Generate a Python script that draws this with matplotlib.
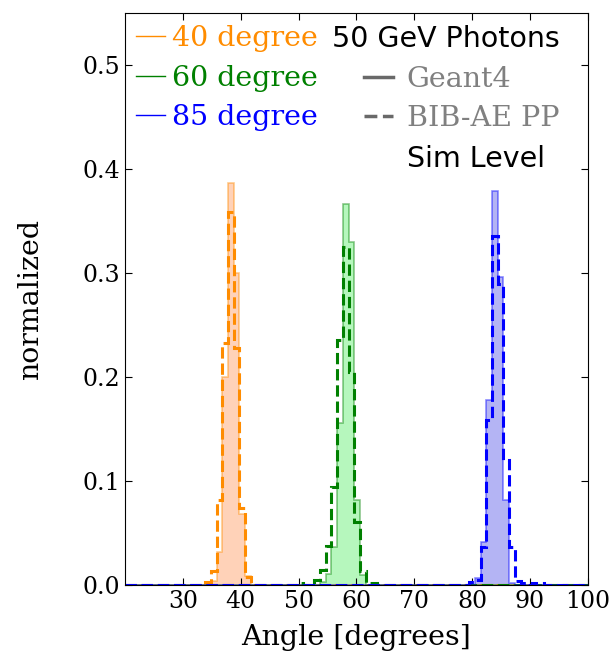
import numpy as np
import matplotlib
matplotlib.use("Agg")
import matplotlib.pyplot as plt
from matplotlib.lines import Line2D

plt.rcParams["font.family"] = "DejaVu Serif"
plt.rcParams["xtick.direction"] = "in"
plt.rcParams["ytick.direction"] = "in"
plt.rcParams["xtick.top"] = True
plt.rcParams["ytick.right"] = True

# angle binning (degrees)
bin_edges = 19.94 + 0.992 * np.arange(82)
bin_centres = 0.5 * (bin_edges[:-1] + bin_edges[1:])

angles = ["40 degree", "60 degree", "85 degree"]

# normalised bin contents, each list starts at the given bin index
g4_40 = [0.0, 0.004, 0.032, 0.200, 0.387, 0.300, 0.068, 0.009]
bib_40 = [0.003, 0.013, 0.082, 0.233, 0.359, 0.228, 0.074, 0.008]
first_40 = 14

g4_60 = [0.0, 0.003, 0.011, 0.037, 0.156, 0.367, 0.330, 0.082, 0.010]
bib_60 = [0.005, 0.014, 0.038, 0.094, 0.236, 0.325, 0.205, 0.061, 0.013, 0.002]
first_60 = 33

g4_85 = [0.0, 0.007, 0.041, 0.178, 0.379, 0.296, 0.082, 0.002, 0.0]
bib_85 = [0.003, 0.005, 0.037, 0.159, 0.336, 0.290, 0.120, 0.037, 0.004, 0.003, 0.0, 0.002]
first_85 = 60

# sparse tail entries far from the peaks
tail_bins = [30, 43, 69, 72]
tail_vals = [0.0015, 0.0015, 0.002, 0.0015]

line_colors = ["darkorange", "green", "blue"]
fill_colors = ["#ffd2b8", "#b6f7bd", "#b4b4f4"]


def to_weights(values, first):
    w = np.zeros(len(bin_centres))
    w[first:first + len(values)] = values
    return w


fig = plt.figure(figsize=(6.13, 6.57), dpi=100)
ax = fig.add_axes([0.204, 0.1096, 0.755, 0.870])

g4_sets = [(g4_40, first_40), (g4_60, first_60), (g4_85, first_85)]
bib_sets = [(bib_40, first_40), (bib_60, first_60), (bib_85, first_85)]

for i in range(3):
    w_g4 = to_weights(*g4_sets[i])
    w_bib = to_weights(*bib_sets[i])
    if i == 2:
        w_bib[tail_bins[2:]] = tail_vals[2:]
    if i == 1:
        w_bib[tail_bins[:2]] = tail_vals[:2]
    # Geant4: filled
    ax.hist(bin_centres, bins=bin_edges, weights=w_g4, histtype="stepfilled",
            color=fill_colors[i], lw=0)
    ax.hist(bin_centres, bins=bin_edges, weights=w_g4, histtype="step",
            color=line_colors[i], alpha=0.45, lw=1.2)
    # BIB-AE: dashed outline
    ax.hist(bin_centres, bins=bin_edges, weights=w_bib, histtype="step",
            color=line_colors[i], ls="--", lw=2.2)

ax.set_xlim(20, 100)
ax.set_ylim(0, 0.55)
ax.set_xticks(np.arange(30, 101, 10))
ax.set_yticks(np.arange(0, 0.51, 0.1))
ax.tick_params(labelsize=17, length=5, width=0.8)
ax.set_xlabel("Angle [degrees]", fontsize=20.5, labelpad=8)
ax.set_ylabel("normalized", fontsize=20.5, labelpad=28)

# colour legend
color_handles = [Line2D([], [], color=c, lw=1) for c in line_colors]
leg1 = ax.legend(color_handles, angles, loc="upper left", frameon=False,
                 fontsize=20.5, labelcolor="linecolor", handlelength=1.0,
                 handletextpad=0.25, labelspacing=0.45, borderaxespad=0.0,
                 bbox_to_anchor=(0.0, 1.0))
ax.add_artist(leg1)

# sample legend
style_handles = [Line2D([], [], color="dimgray", lw=2.5),
                 Line2D([], [], color="dimgray", lw=2.5, ls="--"),
                 Line2D([], [], color="none")]
leg2 = ax.legend(style_handles, ["Geant4", "BIB-AE PP", "Sim Level"],
                 loc="upper right", frameon=False, fontsize=20.5,
                 title="50 GeV Photons", handlelength=1.0, handletextpad=0.5,
                 labelspacing=0.45, borderaxespad=0.0, alignment="right",
                 bbox_to_anchor=(0.963, 1.0))
leg2.get_title().set_fontfamily("DejaVu Sans")
leg2.get_title().set_fontsize(20.5)
for t in leg2.get_texts()[:2]:
    t.set_color("gray")
leg2.get_texts()[2].set_fontfamily("DejaVu Sans")

fig.savefig("out.png", dpi=100)
